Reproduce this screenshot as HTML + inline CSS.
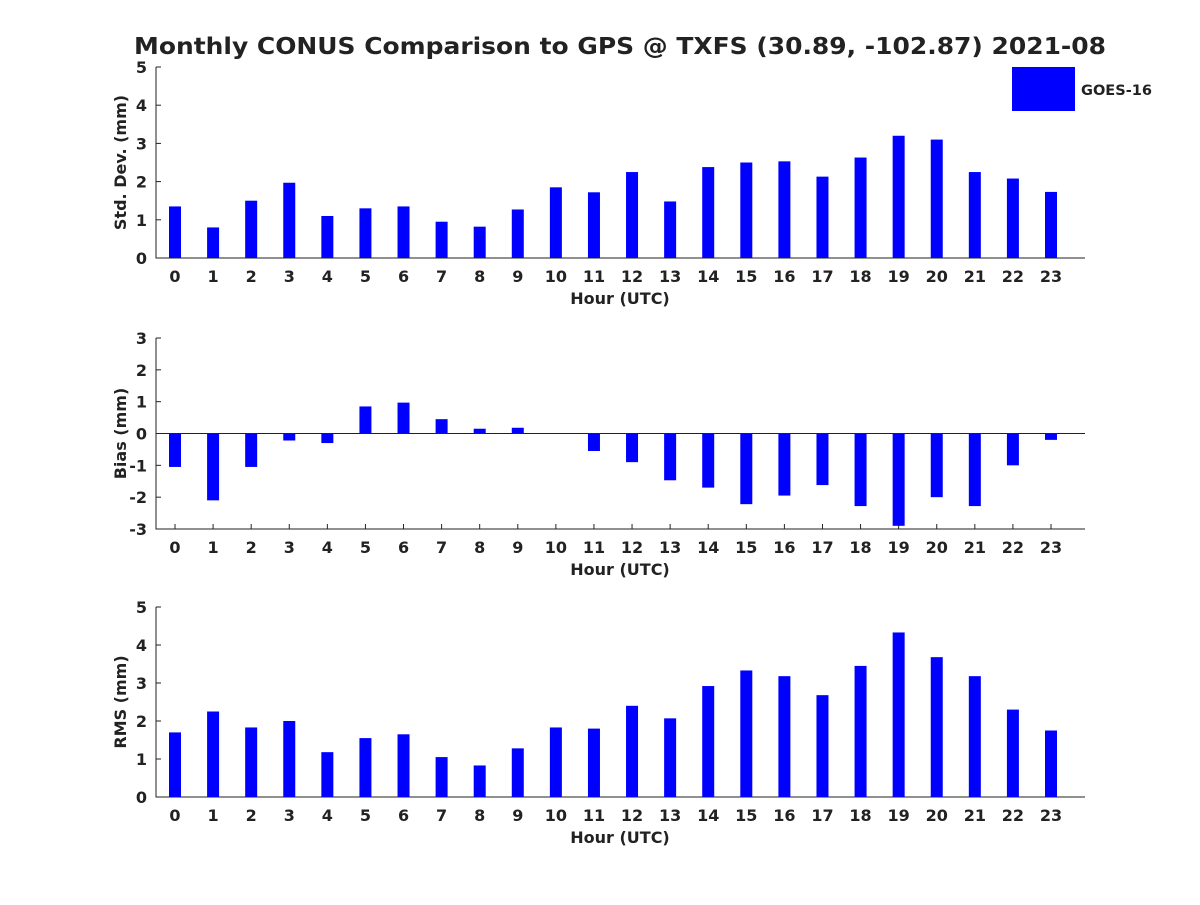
<!DOCTYPE html>
<html><head><meta charset="utf-8"><style>
html,body{margin:0;padding:0;background:#fff}
svg text{font-family:"DejaVu Sans","Liberation Sans",sans-serif;font-weight:bold;fill:#222}
</style></head><body>
<svg id="chart" width="1200" height="900" xmlns="http://www.w3.org/2000/svg">
<text x="620" y="54" text-anchor="middle" font-size="23" textLength="972" lengthAdjust="spacingAndGlyphs">Monthly CONUS Comparison to GPS @ TXFS (30.89, -102.87) 2021-08</text>
<rect x="1012" y="67" width="63" height="44" fill="#0000ff"/>
<text x="1081" y="95" font-size="14" textLength="71" lengthAdjust="spacingAndGlyphs">GOES-16</text>
</svg>
<script>
const hours=[0,1,2,3,4,5,6,7,8,9,10,11,12,13,14,15,16,17,18,19,20,21,22,23];
const stdVals=[1.35,0.8,1.5,1.97,1.1,1.3,1.35,0.95,0.82,1.27,1.85,1.72,2.25,1.48,2.38,2.5,2.53,2.13,2.63,3.2,3.1,2.25,2.08,1.73];
const biasVals=[-1.05,-2.1,-1.05,-0.22,-0.3,0.85,0.97,0.45,0.15,0.18,0,-0.55,-0.9,-1.47,-1.7,-2.22,-1.95,-1.62,-2.28,-2.9,-2.0,-2.28,-1.0,-0.2];
const rmsVals=[1.7,2.25,1.83,2.0,1.18,1.55,1.65,1.05,0.83,1.28,1.83,1.8,2.4,2.07,2.92,3.33,3.18,2.68,3.45,4.33,3.68,3.18,2.3,1.75];
const stdTicks=[0,1,2,3,4,5];
const biasTicks=[-3,-2,-1,0,1,2,3];
const rmsTicks=[0,1,2,3,4,5];
const NS='http://www.w3.org/2000/svg';
const svg=document.getElementById('chart');
function mk(t,a,p){const e=document.createElementNS(NS,t);for(const k in a)e.setAttribute(k,a[k]);(p||svg).appendChild(e);return e;}
const L=156,R=1085;
function xs(h){return 175+h*(1051-175)/23;}
function panel(key,vals,ticks,top,bot,ylab){
  const g=mk('g',{});
  
  
  const mn=ticks[0],mx=ticks[ticks.length-1];
  const ys=v=>bot-(v-mn)/(mx-mn)*(bot-top);
  const ax=mk('path',{d:`M${L} ${top}V${bot}H${R}`,fill:'none',stroke:'#222','stroke-width':1},g);
  
  
  ticks.forEach(t=>{
    mk('line',{x1:L,x2:L+5,y1:ys(t),y2:ys(t),stroke:'#222'},g);
    const tx=mk('text',{x:L-9,y:ys(t)+6,'text-anchor':'end','font-size':16},g);
    tx.textContent=t;
    
    
  });
  hours.forEach((h,i)=>{
    const x=xs(h);
    mk('line',{x1:x,x2:x,y1:bot,y2:bot-5,stroke:'#222'},g);
    const tx=mk('text',{x:x,y:bot+24,'text-anchor':'middle','font-size':16},g);
    tx.textContent=h;
    
    
    const y0=ys(Math.max(0,mn)),y1=ys(vals[i]);
    const b=mk('rect',{x:x-6,y:Math.min(y0,y1),width:12,height:Math.abs(y1-y0),fill:'#0000ff'},g);
    
    
  });
  if(mn<0)mk('line',{x1:L,x2:R,y1:ys(0),y2:ys(0),stroke:'#222'},g);
  const xl=mk('text',{x:620,y:bot+46,'text-anchor':'middle','font-size':16},g);
  xl.textContent='Hour (UTC)';
  
  
  const cy=(top+bot)/2;
  const yl=mk('text',{x:126,y:cy,'text-anchor':'middle','font-size':16,transform:`rotate(-90 126 ${cy})`},g);
  yl.textContent=ylab;
  
  
}
panel('std',stdVals,stdTicks,67,258,'Std. Dev. (mm)');
panel('bias',biasVals,biasTicks,338,529,'Bias (mm)');
panel('rms',rmsVals,rmsTicks,607,797,'RMS (mm)');
</script>
</body></html>
